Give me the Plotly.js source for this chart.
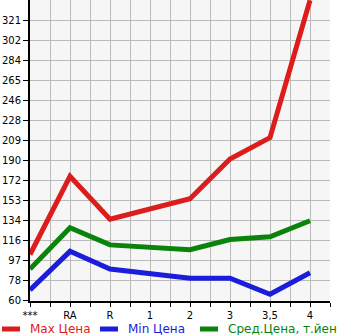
<!DOCTYPE html>
<html>
<head>
<meta charset="utf-8">
<script src="https://cdn.plot.ly/plotly-3.0.1.min.js"></script>
<style>html,body{margin:0;padding:0;background:#fff;}#chart{width:345px;height:335px;}</style>
</head>
<body>
<div id="chart"></div>
<script>
var categories = ["***", "RA", "R", "1", "2", "3", "3,5", "4"];
var maxPrice = [103, 176, 136, 146, 155, 192, 212, 340];
var minPrice = [70, 106, 89.5, 85, 81, 81, 66, 86];
var avgPrice = [89.5, 128, 112, 110, 107.5, 117, 119.5, 134.5];
var yTickLabels = ["60", "78", "97", "116", "134", "153", "172", "190", "209", "228", "246", "265", "284", "302", "321"];
var seriesNames = ["Max Цена", "Min Цена", "Сред.Цена, т.йен"];
var seriesColors = ["#dd1c1c", "#1c1cdd", "#0a830a"];

var xIdx = categories.map(function (c, i) { return i; });
var yMin = +yTickLabels[0], yMax = +yTickLabels[yTickLabels.length - 1];
var yStep = (yMax - yMin) / (yTickLabels.length - 1);
var yTickVals = yTickLabels.map(function (t, i) { return yMin + i * yStep; });
var xTickVals = [], xTickText = [];
for (var k = 0; k <= categories.length * 2 - 1; k++) {
  xTickVals.push(k / 2);
  xTickText.push(k % 2 === 0 ? categories[k / 2] : "");
}

var series = [maxPrice, minPrice, avgPrice];
var traces = series.map(function (vals, i) {
  return {
    x: xIdx, y: vals, type: "scatter", mode: "lines",
    name: seriesNames[i],
    line: { color: seriesColors[i], width: 5 },
    hoverinfo: "none", showlegend: false
  };
});

// Custom legend row under the plot (paper coordinates)
var plotW = 300, plotH = 301, marginL = 30;
var legendStarts = [0, 98, 198]; // px from left edge of the figure
var legendY = -28 / plotH;
var shapes = [], annotations = [];
seriesNames.forEach(function (nm, i) {
  var x0 = (legendStarts[i] + 2 - marginL) / plotW;
  var x1 = (legendStarts[i] + 20 - marginL) / plotW;
  shapes.push({
    type: "line", xref: "paper", yref: "paper", x0: x0, x1: x1, y0: legendY, y1: legendY,
    line: { color: seriesColors[i], width: 5 }, layer: "above"
  });
  annotations.push({
    xref: "paper", yref: "paper", x: (legendStarts[i] + 28 - marginL) / plotW, y: legendY,
    xanchor: "left", yanchor: "middle", showarrow: false,
    text: nm, font: { size: 12, color: seriesColors[i] }
  });
});

var layout = {
  width: 345, height: 335,
  margin: { l: 30, r: 15, t: 0, b: 34, autoexpand: false },
  paper_bgcolor: "#ffffff",
  plot_bgcolor: "#f6f6f6",
  font: { family: "DejaVu Sans, sans-serif", size: 10, color: "#000" },
  showlegend: false,
  shapes: shapes,
  annotations: annotations,
  xaxis: {
    range: [0, categories.length - 0.5],
    tickmode: "array", tickvals: xTickVals, ticktext: xTickText,
    showgrid: true, gridcolor: "#bbbbbb", gridwidth: 1,
    showline: true, linecolor: "#000", linewidth: 2,
    ticks: "outside", ticklen: 4, tickcolor: "#000", tickwidth: 1,
    zeroline: false, fixedrange: true
  },
  yaxis: {
    range: [yMin - 0.3, yMax + 19.3],
    tickmode: "array", tickvals: yTickVals, ticktext: yTickLabels,
    showgrid: true, gridcolor: "#bbbbbb", gridwidth: 1,
    showline: true, linecolor: "#000", linewidth: 2,
    ticks: "outside", ticklen: 5, tickcolor: "#000", tickwidth: 1,
    zeroline: false, fixedrange: true
  }
};

Plotly.newPlot("chart", traces, layout, { staticPlot: true, displayModeBar: false });
</script>
</body>
</html>
